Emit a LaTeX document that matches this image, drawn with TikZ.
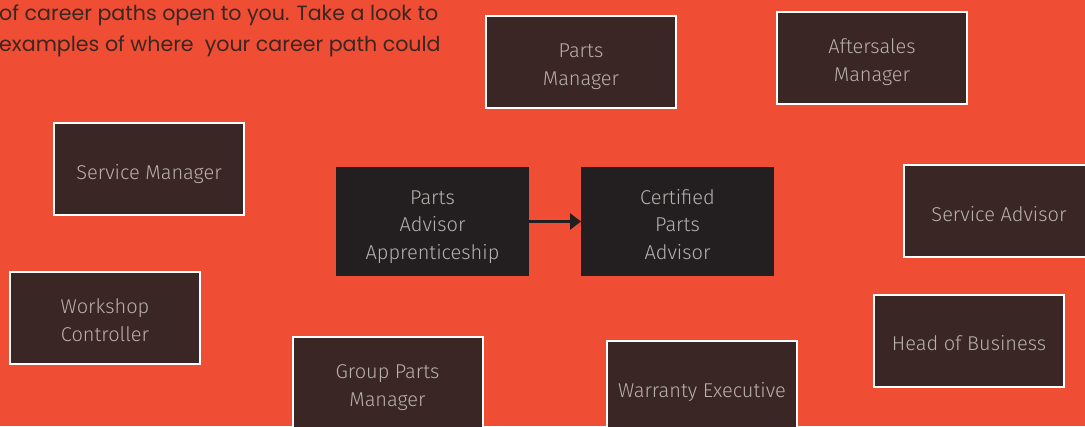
\documentclass[tikz,border=0pt]{standalone}
\usepackage{fontspec}
\usetikzlibrary{arrows.meta}
\newfontfamily\boxfont{Fira Sans Light}
\newfontfamily\introfont{Poppins}
\definecolor{bgred}{HTML}{EF4E35}
\definecolor{boxbrown}{HTML}{3A2624}
\definecolor{boxdark}{HTML}{231F20}
\definecolor{txtgrey}{HTML}{B8B0AF}
\definecolor{introtxt}{HTML}{3B2622}
\tikzset{
  career/.style={rectangle, fill=boxbrown, draw=white, line width=2bp,
    minimum width=190bp, minimum height=92bp, inner sep=0pt, outer sep=0pt,
    text depth=0pt, text height=20bp,
    align=center, text=txtgrey, font=\boxfont\fontsize{20bp}{28bp}\selectfont},
  mainbox/.style={rectangle, fill=boxdark, draw=none,
    minimum width=193bp, minimum height=109bp, inner sep=0pt, outer sep=0pt,
    text depth=0pt, text height=75bp,
    align=center, text=txtgrey, font=\boxfont\fontsize{20bp}{27.5bp}\selectfont},
  twoline/.style={text height=47bp},
  intro/.style={anchor=base west, inner sep=0pt, text=introtxt,
    font=\introfont\fontsize{20.6bp}{31bp}\selectfont},
  flow/.style={line width=3bp, draw=boxdark, -{Triangle[length=11bp,width=16bp]}}
}
\begin{document}
\begin{tikzpicture}[x=1bp,y=-1bp]
\useasboundingbox (0,0) rectangle (1085,426);
\fill[bgred] (0,0) rectangle (1085,426);
\node[intro] (l1) at (-1,20) {of career paths open to you. Take a look to};
\node[intro] (l2) at (-1,51) {examples of where\ \ your career path could};
\node[career, twoline] (pm) at (581,62) {Parts\\Manager};
\node[career, twoline] (am) at (872,57.5) {Aftersales\\Manager};
\node[career] (sm) at (149,169) {Service Manager};
\node[career] (sa) at (999,211) {Service Advisor};
\node[career, twoline] (wc) at (105,317.5) {Workshop\\Controller};
\node[career, twoline] (gpm) at (387.5,383) {Group Parts\\Manager};
\node[career] (we) at (702,387) {Warranty Executive};
\node[career] (hb) at (969,340.5) {Head of Business};
\node[mainbox] (paa) at (432.5,221.5) {Parts\\Advisor\\Apprenticeship};
\node[mainbox] (cpa) at (677.5,221.5) {Certified\\Parts\\Advisor};
\draw[flow] (paa) -- (cpa);
\end{tikzpicture}
\end{document}
